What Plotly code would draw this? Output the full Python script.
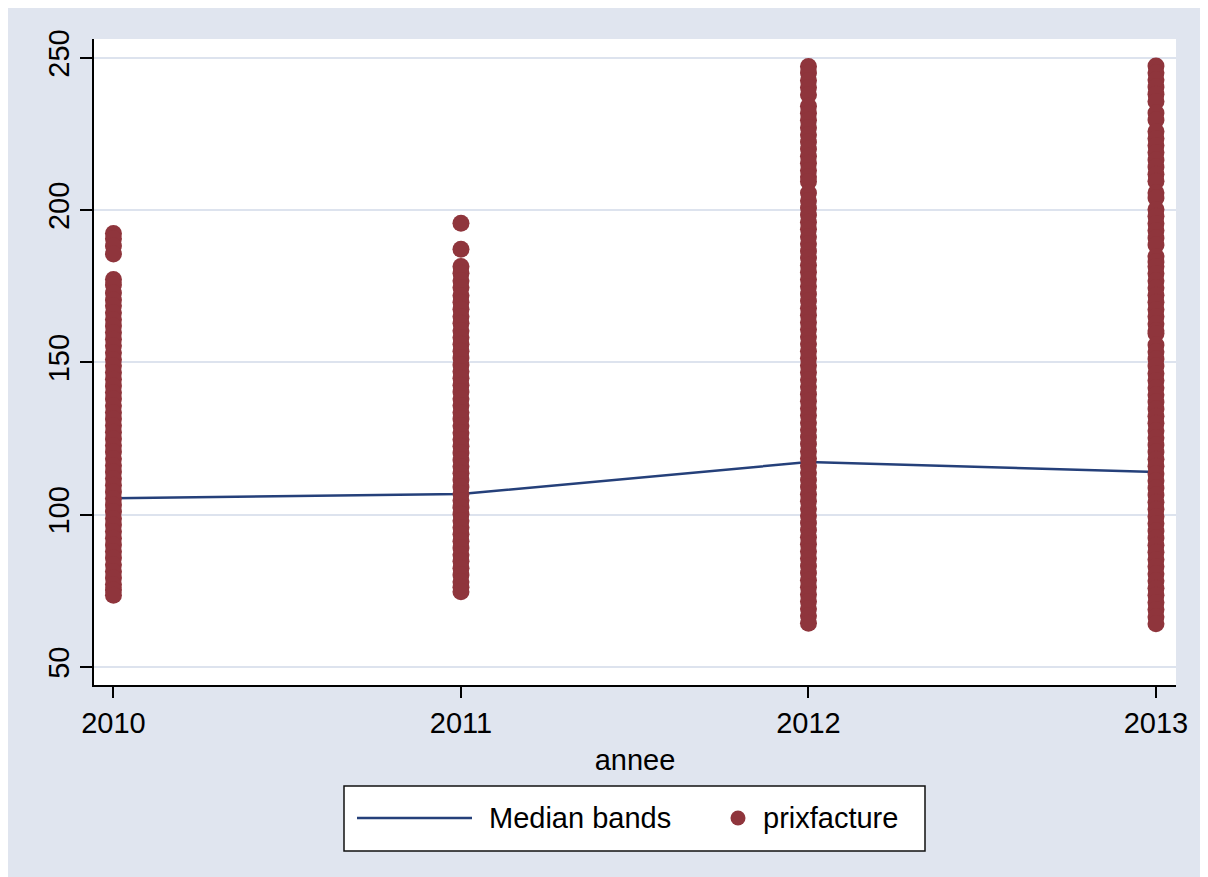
import plotly.graph_objects as go

# ---------------- data ----------------
years = [2010, 2011, 2012, 2013]
year_labels = ["2010", "2011", "2012", "2013"]
median_bands = [105.4, 106.8, 117.3, 114.0]

prix_2010 = [192.3, 190.6, 188.2, 185.6, 177.2, 175.4, 172.8, 170.5, 168.6, 166.3,
             164.1, 162.0, 159.8, 157.6, 155.5, 153.2, 151.0, 148.9, 146.7, 144.5,
             142.3, 140.1, 138.0, 135.8, 133.6, 131.4, 129.3, 127.1, 124.9, 122.7,
             120.6, 118.4, 116.2, 114.0, 111.9, 109.7, 107.5, 105.3, 103.2, 101.0,
             98.8, 96.6, 94.5, 92.3, 90.1, 87.9, 85.8, 83.6, 81.4, 79.2, 77.1, 75.3, 73.6]
prix_2011 = [195.7, 187.2, 181.5, 179.3, 176.8, 174.6, 172.0, 169.8, 167.5, 165.1,
             162.9, 160.4, 158.2, 156.0, 153.7, 151.5, 149.2, 147.0, 144.8, 142.5,
             140.3, 138.1, 135.9, 133.6, 131.4, 129.2, 126.9, 124.7, 122.5, 120.3,
             118.0, 115.8, 113.6, 111.4, 109.1, 106.9, 104.7, 102.5, 100.2, 98.0,
             95.8, 93.6, 91.3, 89.1, 86.9, 84.7, 82.4, 80.2, 78.0, 76.2, 74.7]
prix_2012 = [247.2, 245.0, 242.6, 240.3, 237.9, 234.1, 231.8, 229.5, 227.1, 224.8,
             222.4, 220.1, 217.7, 215.4, 213.0, 211.0, 209.4, 205.6, 203.1, 200.7,
             198.4, 196.0, 193.7, 191.3, 189.0, 186.6, 184.3, 181.9, 179.6, 177.2,
             174.9, 172.5, 170.2, 167.8, 165.5, 163.1, 160.8, 158.4, 156.1, 153.7,
             151.4, 149.0, 146.7, 144.3, 142.0, 139.6, 137.3, 134.9, 132.6, 130.2,
             127.9, 125.5, 123.2, 120.8, 118.5, 116.1, 113.8, 111.4, 109.1, 106.7,
             104.4, 102.0, 99.7, 97.3, 95.0, 92.6, 90.3, 87.9, 85.6, 83.2, 80.9,
             78.5, 76.2, 73.8, 71.5, 69.1, 66.8, 64.4]
prix_2013 = [247.3, 245.1, 242.8, 240.4, 238.1, 235.7, 231.9, 229.6, 225.8, 223.5,
             221.2, 218.9, 216.5, 214.2, 211.8, 209.5, 205.7, 204.0, 200.2, 198.0,
             195.6, 193.3, 190.9, 188.6, 184.8, 183.0, 181.5, 179.2, 176.8, 174.5,
             172.1, 169.8, 167.4, 165.1, 162.7, 160.4, 159.5, 155.7, 153.5, 151.1,
             148.8, 146.4, 144.1, 141.7, 139.4, 137.0, 134.7, 132.3, 130.0, 127.6,
             125.3, 122.9, 120.6, 118.2, 115.9, 113.5, 111.2, 108.8, 106.5, 104.1,
             101.8, 99.4, 97.1, 94.7, 92.4, 90.0, 87.7, 85.3, 83.0, 80.6, 78.3,
             75.9, 73.6, 71.2, 68.9, 66.5, 64.2]

y_ticks = [50, 100, 150, 200, 250]
series_names = ["Median bands", "prixfacture"]

# ---------------- styling ----------------
NAVY = "#25407a"
MAROON = "#8f353c"
BG = "#e0e5ef"
GRID = "#dde3ee"
FONT = "Liberation Sans, Arial, Helvetica, sans-serif"
FS = 29

W, H = 1200, 869
ML, MR, MT, MB = 86, 32, 31, 192
PW = W - ML - MR
PH = H - MT - MB
OFF = 8  # body margin of the page


def pxx(page_x):
    return (page_x - OFF - ML) / PW


def pxy(page_y):
    return (H - MB - (page_y - OFF)) / PH


prix_groups = [prix_2010, prix_2011, prix_2012, prix_2013]
scatter_x = []
scatter_y = []
for yr, vals in zip(years, prix_groups):
    scatter_x += [yr] * len(vals)
    scatter_y += vals

fig = go.Figure()
fig.add_trace(go.Scatter(
    x=years, y=median_bands, mode="lines", name=series_names[0],
    line=dict(color=NAVY, width=2.5), showlegend=False))
fig.add_trace(go.Scatter(
    x=scatter_x, y=scatter_y, mode="markers", name=series_names[1],
    marker=dict(color=MAROON, size=17, line=dict(width=0)), showlegend=False))

# manual Stata-style legend
lx0, lx1, ly0, ly1 = pxx(344), pxx(925), pxy(851), pxy(786)
ymid = pxy(818)
shapes = [
    dict(type="rect", xref="paper", yref="paper", x0=lx0, x1=lx1, y0=ly0, y1=ly1,
         line=dict(color="#111111", width=1.5), fillcolor="white", layer="above"),
    dict(type="line", xref="paper", yref="paper", x0=pxx(357), x1=pxx(472), y0=ymid, y1=ymid,
         line=dict(color=NAVY, width=2.5), layer="above"),
    dict(type="circle", xref="paper", yref="paper", xsizemode="pixel", ysizemode="pixel",
         xanchor=pxx(738), yanchor=ymid, x0=-7.5, x1=7.5, y0=-7.5, y1=7.5,
         fillcolor=MAROON, line=dict(width=0), layer="above"),
]
annotations = [
    dict(text=series_names[0], xref="paper", yref="paper", x=pxx(487), y=ymid,
         xanchor="left", yanchor="middle", showarrow=False,
         font=dict(family=FONT, size=FS, color="black")),
    dict(text=series_names[1], xref="paper", yref="paper", x=pxx(761), y=ymid,
         xanchor="left", yanchor="middle", showarrow=False,
         font=dict(family=FONT, size=FS, color="black")),
]

fig.update_layout(
    width=W, height=H,
    margin=dict(l=ML, r=MR, t=MT, b=MB),
    paper_bgcolor=BG, plot_bgcolor="white",
    font=dict(family=FONT, size=FS, color="black"),
    showlegend=False,
    shapes=shapes,
    annotations=annotations,
    xaxis=dict(
        range=[2009.944, 2013.0576], tickmode="array", tickvals=years, ticktext=year_labels,
        ticks="outside", ticklen=11, tickwidth=1.5, tickcolor="black",
        showline=True, linecolor="black", linewidth=1.5, mirror=False,
        showgrid=False, zeroline=False,
        tickfont=dict(family=FONT, size=FS, color="black"),
        title=dict(text="annee", font=dict(family=FONT, size=FS, color="black"), standoff=12),
    ),
    yaxis=dict(
        range=[44.1, 256.2], tickmode="array", tickvals=y_ticks,
        ticktext=[str(v) for v in y_ticks], tickangle=-90,
        ticks="outside", ticklen=12, tickwidth=1.5, tickcolor="black",
        showline=True, linecolor="black", linewidth=1.5,
        showgrid=True, gridcolor=GRID, gridwidth=2, zeroline=False,
        tickfont=dict(family=FONT, size=FS, color="black"),
    ),
)

fig.write_html(
    "out.html",
    post_script="document.documentElement.style.overflow='hidden';document.body.style.overflow='hidden';",
)
